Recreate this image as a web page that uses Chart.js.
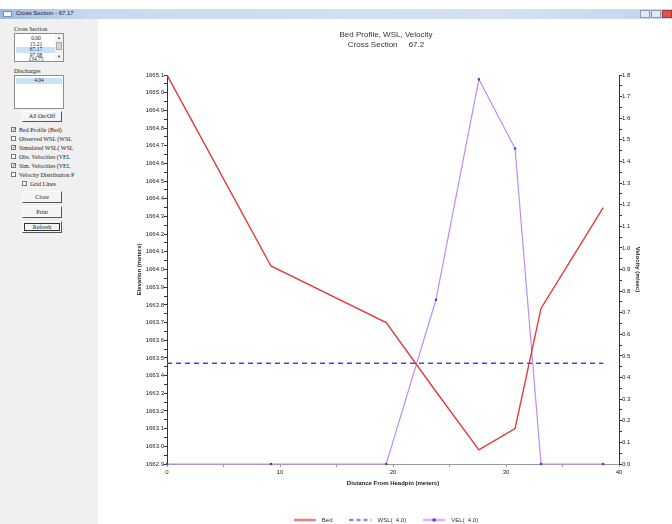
<!DOCTYPE html>
<html>
<head>
<meta charset="utf-8">
<script src="https://cdn.jsdelivr.net/npm/chart.js@4/dist/chart.umd.min.js"></script>
<style>
  html, body { margin: 0; padding: 0; width: 672px; height: 524px; overflow: hidden; background: #fff; }
  body { position: relative; font-family: "Liberation Serif", serif; }
  .titlebar { position: absolute; left: 0; top: 9px; width: 672px; height: 10px;
    background: linear-gradient(to right, #9db9e2 0px, #c9daf0 90px, #d4e2f3 500px, #c2d5ee 672px); }
  .titlebar .cap { position: absolute; left: 16px; top: 1px; font: 6px "Liberation Sans", sans-serif; color: #223; }
  .titlebar .ico { position: absolute; left: 3px; top: 2px; width: 9px; height: 6px; background: #f4f6fa; border: 1px solid #7a8fb0; box-sizing: border-box; }
  .titlebar .btn { position: absolute; top: 1px; width: 10px; height: 8px; background: #e3e9f2; border: 1px solid #8a9ab4; box-sizing: border-box; }
  .titlebar .btn.x { background: #d9574a; border-color: #a33; }
  .side { position: absolute; left: 0; top: 19px; width: 98px; height: 505px; background: #f0f0f0; }
  .lbl { position: absolute; font-size: 6px; color: #222; white-space: nowrap; line-height: 6px; }
  .list { position: absolute; background: #fff; border: 1px solid #8e8e8e; box-sizing: border-box; }
  .item { position: absolute; left: 1px; width: 40px; text-align: center; font-size: 5.5px; line-height: 5.5px; color: #222; }
  .item.sel { background: #c9e2f7; }
  .sb { position: absolute; right: 0; top: 0; width: 8px; height: 100%; background: #f2f2f2; }
  .sb .arr { position: absolute; left: 1px; width: 6px; font-size: 4px; line-height: 4px; color: #444; text-align: center; }
  .sb .th { position: absolute; left: 1px; top: 8px; width: 6px; height: 8px; background: #d6d6d6; border: 1px solid #aaa; box-sizing: border-box; }
  .pbtn { position: absolute; left: 22px; width: 40px; height: 11px; background: #f4f4f4; border: 1px solid #fff;
    border-right-color: #555; border-bottom-color: #555; box-sizing: border-box; font-size: 6px; line-height: 9px; text-align: center; color: #222; }
  .pbtn.focus { outline: 1px solid #333; outline-offset: -3px; }
  .cb { position: absolute; width: 5px; height: 5px; border: 1px solid #777; background: #fff; box-sizing: border-box;
    font-size: 5px; line-height: 3px; color: #333; text-align: center; overflow: visible; }
  .chartbox { position: absolute; left: 100px; top: 20px; width: 572px; height: 513px; }
</style>
</head>
<body>
<div class="titlebar">
  <div class="ico"></div>
  <div class="cap">Cross Section - 67.17</div>
  <div class="btn" style="left:640px"></div>
  <div class="btn" style="left:651px"></div>
  <div class="btn x" style="left:662px"></div>
</div>

<div class="side">
  <div class="lbl" style="left:14px; top:7px">Cross Section</div>
  <div class="list" style="left:14px; top:14px; width:50px; height:29px">
    <div class="item" style="top:2px">0.00</div>
    <div class="item" style="top:7.5px">15.21</div>
    <div class="item sel" style="top:13px">67.17</div>
    <div class="item" style="top:18.5px">97.08</div>
    <div class="item" style="top:23px">134.75</div>
    <div class="sb"><div class="arr" style="top:2px">&#9650;</div><div class="th"></div><div class="arr" style="top:21px">&#9660;</div></div>
  </div>
  <div class="lbl" style="left:14px; top:49px">Discharges</div>
  <div class="list" style="left:14px; top:56px; width:50px; height:34px">
    <div class="item sel" style="top:2px; width:46px">4.04</div>
  </div>
  <div class="pbtn" style="top:92px">All On/Off</div>

  <div class="cb" style="left:11px; top:108px">&#10003;</div><div class="lbl" style="left:19px; top:108px">Bed Profile (Bed)</div>
  <div class="cb" style="left:11px; top:117px"></div><div class="lbl" style="left:19px; top:117px">Observed WSL (WSL</div>
  <div class="cb" style="left:11px; top:126px">&#10003;</div><div class="lbl" style="left:19px; top:126px">Simulated WSL( WSL</div>
  <div class="cb" style="left:11px; top:135px"></div><div class="lbl" style="left:19px; top:135px">Obs. Velocities (VEL</div>
  <div class="cb" style="left:11px; top:144px">&#10003;</div><div class="lbl" style="left:19px; top:144px">Sim. Velocities (VEL</div>
  <div class="cb" style="left:11px; top:153px"></div><div class="lbl" style="left:19px; top:153px">Velocity Distribution P</div>
  <div class="cb" style="left:22px; top:162px"></div><div class="lbl" style="left:30px; top:162px">Grid Lines</div>

  <div class="pbtn" style="top:172px; height:12px; line-height:10px">Close</div>
  <div class="pbtn" style="top:187px; height:12px; line-height:10px">Print</div>
  <div class="pbtn focus" style="top:202px; height:12px; line-height:10px">Refresh</div>
</div>

<div class="chartbox"><canvas id="xsChart"></canvas></div>

<script>
// stations across the section (m from headpin)
const stations = [0, 9.2, 19.4, 23.8, 27.6, 30.8, 33.1, 38.6];
// bed elevation (m)
const bedElev = [1665.10, 1664.02, 1663.70, 1663.31, 1662.98, 1663.10, 1663.78, 1664.35];
// simulated velocity (m/sec)
const velocity = [0, 0, 0, 0.76, 1.78, 1.46, 0, 0];
// simulated water surface
const wslStations = [0, 38.6];
const wslElev = [1663.47, 1663.47];

const seriesNames = ['Bed', 'WSL(  4.0)', 'VEL(  4.0)'];
const titleLines = ['Bed Profile, WSL, Velocity', 'Cross Section     67.2'];

const elevRange = [1662.9, 1665.1];
const velRange = [0, 1.8];
const distRange = [0, 40];

const RED = '#e4393b';
const BLUE = '#4646d8';
const PURPLE = '#bf8cf5';
const PURPLE_DOT = '#6a2cc8';
const FONT = 'Liberation Sans';

const pairs = (xs, ys) => xs.map((x, i) => ({ x: x, y: ys[i] }));

// little legend glyphs, one per series
function legendIcon(color, dash, dot) {
    const c = document.createElement('canvas');
    c.width = 25; c.height = 7;
    const g = c.getContext('2d');
    g.strokeStyle = color;
    g.lineWidth = dash ? 1.5 : 1.6;
    g.setLineDash(dash || []);
    g.beginPath();
    g.moveTo(0, 3.5); g.lineTo(22, 3.5);
    g.stroke();
    if (dot) {
        g.fillStyle = dot;
        g.fillRect(9.5, 2, 3, 3);
    }
    return c;
}
const legendIcons = [
    legendIcon(RED),
    legendIcon(BLUE, [4, 3]),
    legendIcon(PURPLE, null, PURPLE_DOT)
];

const tickFont = { family: FONT, size: 6 };
const titleFont = { family: FONT, size: 6, weight: 'bold' };

const ctx = document.getElementById('xsChart').getContext('2d');
new Chart(ctx, {
    type: 'line',
    data: {
        datasets: [{
            label: seriesNames[0],
            data: pairs(stations, bedElev),
            yAxisID: 'y',
            borderColor: RED,
            borderWidth: 1.4,
            pointRadius: 0,
            tension: 0
        }, {
            label: seriesNames[1],
            data: pairs(wslStations, wslElev),
            yAxisID: 'y',
            borderColor: BLUE,
            borderWidth: 1.4,
            borderDash: [5, 4],
            pointRadius: 0
        }, {
            label: seriesNames[2],
            data: pairs(stations, velocity),
            yAxisID: 'y1',
            clip: 4,
            borderColor: PURPLE,
            borderWidth: 1.2,
            pointStyle: 'rect',
            pointRadius: 1.6,
            pointBackgroundColor: PURPLE_DOT,
            pointBorderColor: PURPLE_DOT,
            pointBorderWidth: 0,
            tension: 0
        }]
    },
    options: {
        responsive: true,
        maintainAspectRatio: false,
        animation: false,
        layout: { padding: 0 },
        plugins: {
            tooltip: { enabled: false },
            title: {
                display: true,
                text: titleLines,
                color: '#333',
                font: { family: FONT, size: 8, weight: 'normal' },
                padding: { top: 10, bottom: 25.8 }
            },
            legend: {
                position: 'bottom',
                labels: {
                    usePointStyle: true,
                    pointStyleWidth: 25,
                    padding: 17,
                    color: '#333',
                    font: { family: FONT, size: 6 },
                    generateLabels(chart) {
                        const items = Chart.defaults.plugins.legend.labels.generateLabels(chart);
                        items.forEach((it, i) => { it.pointStyle = legendIcons[i]; });
                        return items;
                    }
                }
            }
        },
        scales: {
            x: {
                type: 'linear',
                min: distRange[0],
                max: distRange[1],
                afterFit: s => { s.height = 36; },
                border: { color: '#9a9a9a', width: 1 },
                grid: { drawOnChartArea: false, drawTicks: true, tickLength: 3, color: '#9a9a9a' },
                ticks: {
                    stepSize: 5,
                    autoSkip: false,
                    maxRotation: 0,
                    padding: 1.5,
                    color: '#222',
                    font: tickFont,
                    callback: v => (v % 10 === 0 ? String(v) : '')
                },
                title: {
                    display: true,
                    text: 'Distance From Headpin (meters)',
                    color: '#222',
                    font: titleFont,
                    padding: { top: 0, bottom: 13.4 }
                }
            },
            y: {
                position: 'left',
                min: elevRange[0],
                max: elevRange[1],
                afterFit: s => { s.width = 67; },
                border: { color: '#333', width: 1 },
                grid: { drawOnChartArea: false, drawTicks: true, tickLength: 3, color: '#333' },
                ticks: {
                    stepSize: 0.05,
                    autoSkip: false,
                    padding: 0,
                    color: '#222',
                    font: tickFont,
                    callback: v => (Math.abs(v * 10 - Math.round(v * 10)) < 1e-6 ? v.toFixed(1) : '')
                },
                title: {
                    display: true,
                    text: 'Elevation (meters)',
                    color: '#222',
                    font: titleFont,
                    padding: { top: 35.4, bottom: 0 }
                }
            },
            y1: {
                position: 'right',
                min: velRange[0],
                max: velRange[1],
                afterFit: s => { s.width = 53; },
                border: { color: '#333', width: 1 },
                grid: { drawOnChartArea: false, drawTicks: true, tickLength: 3, color: '#333' },
                ticks: {
                    stepSize: 0.05,
                    autoSkip: false,
                    padding: 0,
                    color: '#222',
                    font: tickFont,
                    callback: v => (Math.abs(v * 10 - Math.round(v * 10)) < 1e-6 ? v.toFixed(1) : '')
                },
                title: {
                    display: true,
                    text: 'Velocity (m/sec)',
                    color: '#222',
                    font: titleFont,
                    padding: { top: 30.4, bottom: 0 }
                }
            }
        }
    }
});
</script>
</body>
</html>
